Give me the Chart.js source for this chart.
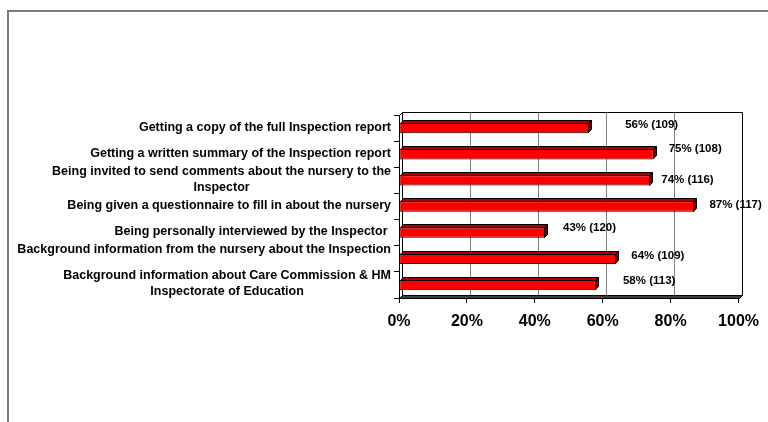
<!DOCTYPE html>
<html>
<head>
<meta charset="utf-8">
<script src="https://cdn.jsdelivr.net/npm/chart.js@4.4.0/dist/chart.umd.min.js"></script>
<style>
  html, body { margin: 0; padding: 0; background: #ffffff; }
  canvas { display: block; }
</style>
</head>
<body>
<canvas id="chart" width="768" height="422"></canvas>
<script>
// Survey items (multi-line entries are wrapped the way they are shown)
const categories = [
  'Getting a copy of the full Inspection report',
  'Getting a written summary of the Inspection report',
  ['Being invited to send comments about the nursery to the', 'Inspector'],
  'Being given a questionnaire to fill in about the nursery',
  'Being personally interviewed by the Inspector ',
  ['Background information from the nursery about the Inspection', ''],
  ['Background information about Care Commission & HM', 'Inspectorate of Education']
];
// Share of parents (%) and number of responses for each item
const percentages = [56, 75, 74, 87, 43, 64, 58];
const respondents = [109, 108, 116, 117, 120, 109, 113];
// Value axis ticks (%)
const percentTicks = [0, 20, 40, 60, 80, 100];

const FONT = '"Liberation Sans", Arial, sans-serif';
const DEPTH = 3;            // depth of the 3-D plot box and bars
const BAR_TOP = '#b00000';  // shaded top face
const BAR_SIDE = '#7a0000'; // shaded end face
// Extra offset of each value label from the end of its bar [dx, dy]
const labelNudge = [[36, -3], [15, -5], [11, -1], [15, -2], [18, -5], [15, -3], [27, -4]];

const plot3d = {
  id: 'plot3d',
  beforeDraw(chart) {
    const ctx = chart.ctx;
    ctx.save();
    ctx.fillStyle = '#ffffff';
    ctx.fillRect(0, 0, chart.width, chart.height);
    // chart frame (left and top edges)
    ctx.fillStyle = '#7a7a7a';
    ctx.fillRect(7, 10, 2, chart.height - 10);
    ctx.fillRect(7, 10, chart.width - 7, 2);
    ctx.restore();
  },
  beforeDatasetsDraw(chart) {
    const { ctx, chartArea: a, scales: { x } } = chart;
    const d = DEPTH;
    const L = Math.round(a.left) + 0.5, R = Math.round(a.right) + 0.5;
    const T = Math.round(a.top) + 0.5, B = Math.round(a.bottom) + 0.5;
    ctx.save();
    ctx.lineWidth = 1;
    // gridlines on the back wall
    ctx.strokeStyle = '#7f7f7f';
    percentTicks.slice(1, -1).forEach(v => {
      const px = Math.round(x.getPixelForValue(v)) + d + 0.5;
      ctx.beginPath();
      ctx.moveTo(px, T - d);
      ctx.lineTo(px, B - d);
      ctx.stroke();
    });
    ctx.strokeStyle = '#000000';
    // back wall outline
    ctx.beginPath();
    ctx.moveTo(L + d, T - d);
    ctx.lineTo(R + d, T - d);
    ctx.lineTo(R + d, B - d);
    ctx.stroke();
    // side wall
    ctx.beginPath();
    ctx.moveTo(L, T);
    ctx.lineTo(L + d, T - d);
    ctx.lineTo(L + d, B - d);
    ctx.lineTo(L, B);
    ctx.closePath();
    ctx.stroke();
    // floor
    ctx.beginPath();
    ctx.moveTo(L, B);
    ctx.lineTo(R, B);
    ctx.lineTo(R + d, B - d);
    ctx.lineTo(L + d, B - d);
    ctx.closePath();
    ctx.fillStyle = '#404040';
    ctx.fill();
    ctx.stroke();
    ctx.restore();
  },
  afterDatasetsDraw(chart) {
    const ctx = chart.ctx;
    const meta = chart.getDatasetMeta(0);
    const d = DEPTH;
    ctx.save();
    ctx.lineWidth = 1;
    ctx.strokeStyle = '#000000';
    meta.data.forEach((bar, i) => {
      const { x, y, base, height } = bar.getProps(['x', 'y', 'base', 'height'], true);
      const top = Math.round(y - height / 2) + 0.5;
      const bot = Math.round(y + height / 2) - 0.5;
      const x0 = Math.round(base) + 0.5;
      const x1 = Math.round(x) - 0.5;
      // top face
      ctx.beginPath();
      ctx.moveTo(x0, top);
      ctx.lineTo(x1, top);
      ctx.lineTo(x1 + d, top - d);
      ctx.lineTo(x0 + d, top - d);
      ctx.closePath();
      ctx.fillStyle = BAR_TOP;
      ctx.fill();
      ctx.stroke();
      // end face
      ctx.beginPath();
      ctx.moveTo(x1, top);
      ctx.lineTo(x1 + d, top - d);
      ctx.lineTo(x1 + d, bot - d);
      ctx.lineTo(x1, bot);
      ctx.closePath();
      ctx.fillStyle = BAR_SIDE;
      ctx.fill();
      ctx.stroke();
      // value label
      const [nx, ny] = labelNudge[i];
      ctx.fillStyle = '#000000';
      ctx.font = 'bold 11.5px ' + FONT;
      ctx.textAlign = 'left';
      ctx.textBaseline = 'middle';
      ctx.fillText(percentages[i] + '% (' + respondents[i] + ')', x + nx, y + ny);
    });
    ctx.restore();
  },
  afterDraw(chart) {
    // category labels: each block right-aligned, its lines centred within it
    const { ctx, scales: { y } } = chart;
    const rightEdge = y.right - 8;
    const lineH = 16;
    ctx.save();
    ctx.font = 'bold 12.5px ' + FONT;
    ctx.fillStyle = '#000000';
    ctx.textAlign = 'center';
    ctx.textBaseline = 'middle';
    categories.forEach((label, i) => {
      const lines = Array.isArray(label) ? label : [label];
      const w = Math.max(...lines.map(s => ctx.measureText(s).width));
      const cx = rightEdge - w / 2;
      const cy = y.getPixelForValue(i) - 1;
      lines.forEach((s, j) => {
        ctx.fillText(s, cx, cy + (j - (lines.length - 1) / 2) * lineH);
      });
    });
    ctx.restore();
  }
};

new Chart(document.getElementById('chart'), {
  type: 'bar',
  data: {
    labels: categories,
    datasets: [{
      data: percentages,
      backgroundColor: '#ff0000',
      borderColor: '#000000',
      borderWidth: 1,
      borderSkipped: false,
      barPercentage: 0.4,
      categoryPercentage: 1.0
    }]
  },
  options: {
    indexAxis: 'y',
    responsive: false,
    animation: false,
    devicePixelRatio: 1,
    layout: { padding: { left: 0, top: 115, right: 29, bottom: 84 } },
    plugins: {
      legend: { display: false },
      tooltip: { enabled: false },
      title: { display: false }
    },
    scales: {
      x: {
        type: 'linear',
        position: 'bottom',
        min: 0,
        max: 100,
        afterBuildTicks(scale) { scale.ticks = percentTicks.map(v => ({ value: v })); },
        afterFit(scale) { scale.height = 40; },
        grid: { drawOnChartArea: false, drawTicks: true, tickLength: 5, color: '#000000' },
        border: { display: false },
        ticks: {
          padding: 9,
          color: '#000000',
          font: { family: FONT, size: 16, weight: 'bold' },
          callback: v => v + '%'
        }
      },
      y: {
        type: 'category',
        position: 'left',
        afterFit(scale) { scale.width = 399; },
        grid: { drawOnChartArea: false, drawTicks: true, tickLength: 5, color: '#000000', offset: true },
        border: { display: false },
        ticks: { display: false }
      }
    }
  },
  plugins: [plot3d]
});
</script>
</body>
</html>
